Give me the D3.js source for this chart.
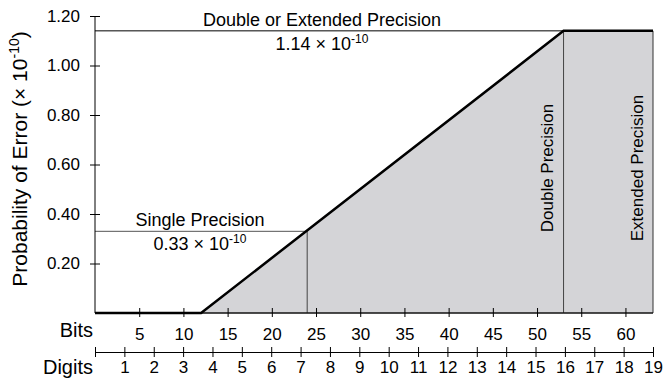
<!DOCTYPE html>
<html>
<head>
<meta charset="utf-8">
<script src="https://cdn.jsdelivr.net/npm/d3@7"></script>
<style>
  body { margin: 0; background: #fff; }
  svg { display: block; font-family: "Liberation Sans", Arial, Helvetica, sans-serif; }
  .axis text { font-size: 17px; fill: #000; }
  .axis path, .axis line { stroke: #000; stroke-width: 1; }
</style>
</head>
<body>
<svg id="viz" width="664" height="384"></svg>
<script>
"use strict";
// values
const yTicks = [0.2, 0.4, 0.6, 0.8, 1.0, 1.2];
const bitTicks = [5, 10, 15, 20, 25, 30, 35, 40, 45, 50, 55, 60];
const digitTicks = d3.range(0, 20);
const maxDigits = 19;
const maxBits = maxDigits * Math.log2(10);
const curveBits = [0, 12, 53, maxBits];
const curveErr = [0, 0, 1.14, 1.14];
const markNames = ["Single Precision", "Double or Extended Precision"];
const markBits = [24, 53];
const markErr = [0.33, 1.14];
const markLabels = ["0.33", "1.14"];
const zoneNames = ["Double Precision", "Extended Precision"];

let svg = d3.select("#viz"), margin = { top: 16, left: 95, bottom: 71, right: 11 };
let w = +svg.attr("width"), h = +svg.attr("height");
let x0 = margin.left, x1 = w - margin.right, yBase = h - margin.bottom;

let xBits = d3.scaleLinear().domain([0, maxBits]).range([x0, x1]);
let xDigits = d3.scaleLinear().domain([0, maxDigits]).range([x0, x1]);
let yScale = d3.scaleLinear().domain([0, 1.2]).range([yBase, margin.top]);

// shaded area under the curve
let pts = curveBits.map((b, i) => [b, curveErr[i]]);
let area = d3.area().x(d => xBits(d[0])).y0(yBase).y1(d => yScale(d[1]));
svg.append("path")
    .datum(pts.slice(1))
    .attr("d", area)
    .attr("fill", "#d4d4d7")
    .attr("stroke", "#333")
    .attr("stroke-width", 1);

// reference lines
markBits.forEach((b, i) => {
    svg.append("line")
        .attr("x1", x0).attr("x2", xBits(b))
        .attr("y1", yScale(markErr[i])).attr("y2", yScale(markErr[i]))
        .attr("stroke", i == 0 ? "#555" : "#000").attr("stroke-width", 1);
    svg.append("line")
        .attr("x1", xBits(b)).attr("x2", xBits(b))
        .attr("y1", yScale(markErr[i])).attr("y2", yBase)
        .attr("stroke", "#444").attr("stroke-width", 1);
});

// y axis
let yAxis = svg.append("g")
    .attr("class", "y axis")
    .attr("transform", `translate(${x0}, 0)`)
    .call(d3.axisLeft(yScale).tickValues(yTicks).tickFormat(d3.format(".2f")).tickSizeOuter(0).tickSize(5).tickPadding(10));
yAxis.selectAll(".tick line").attr("x2", 5).attr("x1", -5);
yAxis.select(".domain").attr("d", `M0,${yScale(1.2)}V${yBase}`);

// bits axis
let bAxis = svg.append("g")
    .attr("class", "x axis")
    .attr("transform", `translate(0, ${yBase})`)
    .call(d3.axisBottom(xBits).tickValues(bitTicks).tickSizeOuter(0).tickSize(4).tickPadding(11));
bAxis.selectAll(".tick line").attr("y1", -5).attr("y2", 4);
bAxis.select(".domain").attr("d", `M${x0},0H${x1}`);

// digits axis
let dAxis = svg.append("g")
    .attr("class", "x axis")
    .attr("transform", `translate(0, ${yBase + 39})`)
    .call(d3.axisBottom(xDigits).tickValues(digitTicks).tickFormat(d => d == 0 ? "" : d).tickSizeOuter(0).tickSize(5).tickPadding(4));
dAxis.selectAll(".tick line").attr("y1", -5).attr("y2", 5);

// curve
svg.append("path")
    .datum(pts)
    .attr("d", d3.line().x(d => xBits(d[0])).y(d => yScale(d[1])))
    .attr("fill", "none")
    .attr("stroke", "#000")
    .attr("stroke-width", 2.5);

// axis titles
svg.append("text")
    .attr("text-anchor", "end").attr("x", x0 - 2).attr("y", yBase + 24)
    .style("font-size", "20px").text("Bits");
svg.append("text")
    .attr("text-anchor", "end").attr("x", x0 - 2).attr("y", yBase + 61)
    .style("font-size", "20px").text("Digits");
let yl = svg.append("text")
    .attr("text-anchor", "middle")
    .attr("transform", "translate(27, 159) rotate(-90)")
    .style("font-size", "21px");
yl.append("tspan").text("Probability of Error (\u00d7 10");
yl.append("tspan").attr("dy", -8).style("font-size", "14px").text("-10");
yl.append("tspan").attr("dy", 8).text(")");

// annotations
let labelX = [200, 322];
markNames.forEach((name, i) => {
    let yy = yScale(markErr[i]);
    svg.append("text")
        .attr("text-anchor", "middle").attr("x", labelX[i]).attr("y", yy - 5)
        .style("font-size", "18px").text(name);
    let t = svg.append("text")
        .attr("text-anchor", "middle").attr("x", labelX[i]).attr("y", yy + 19)
        .style("font-size", "18px");
    t.append("tspan").text(`${markLabels[i]} \u00d7 10`);
    t.append("tspan").attr("dy", -7).style("font-size", "12px").text("-10");
});

let zoneX = [553, 643];
zoneNames.forEach((name, i) => {
    svg.append("text")
        .attr("text-anchor", "middle")
        .attr("transform", `translate(${zoneX[i]}, 168) rotate(-90)`)
        .style("font-size", "17px").text(name);
});
</script>
</body>
</html>
